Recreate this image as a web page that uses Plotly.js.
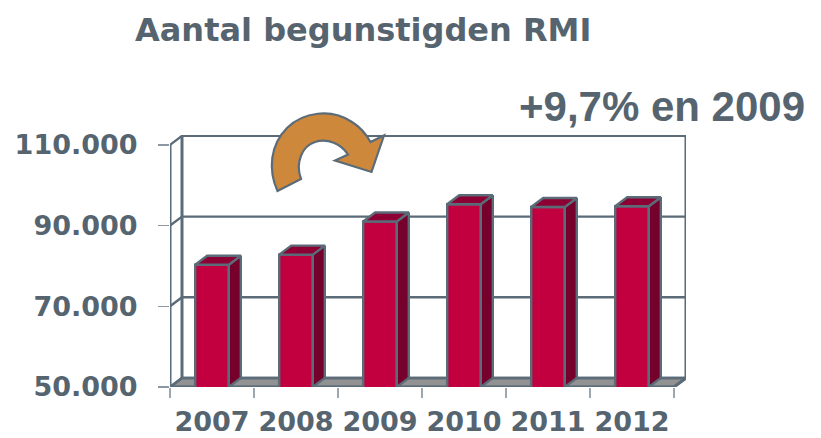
<!DOCTYPE html>
<html>
<head>
<meta charset="utf-8">
<script src="https://cdn.plot.ly/plotly-3.0.1.min.js"></script>
<style>html,body{margin:0;padding:0;background:#fff}</style>
</head>
<body>
<div id="chart" style="width:821px;height:438px"></div>
<script>
const categories = ['2007','2008','2009','2010','2011','2012'];
const values = [80300, 82800, 91000, 95300, 94600, 94800];
const yTicks = [50000, 70000, 90000, 110000];
const yTickLabels = ['50.000','70.000','90.000','110.000'];
const titleText = 'Aantal begunstigden RMI';
const noteText = '+9,7% en 2009';

const W = 821, H = 438;
const L = 170, R = 686, T = 135, B = 387;
const catPx = 84;
const depthPxX = 12, depthPxY = 9;
const yPxPer = 80.7 / 20000;
const dx = depthPxX / catPx;
const dy = depthPxY / yPxPer;
const barW = 0.4;
const xMin = -0.5, xMax = categories.length - 0.5 + dx;
const yMin = yTicks[0], yMax = yMin + (B - T) / yPxPer;

const lineC = '#5b6b78', textC = '#56646f', gridW = 2.4, wallW = 3;
const font = 'DejaVu Sans, Verdana, sans-serif';

const idx = categories.map((_, i) => i);
const xEnd = categories.length - 0.5;
const topTick = yTicks[yTicks.length - 1];

function poly(xs, ys, fill, extra) {
  return Object.assign({type:'scatter', mode:'lines', x:xs, y:ys, fill:'toself', fillcolor:fill,
    line:{color:lineC, width:gridW, shape:'linear'}, hoverinfo:'skip', showlegend:false, cliponaxis:false}, extra || {});
}
function lines(xs, ys, width) {
  return {type:'scatter', mode:'lines', x:xs, y:ys,
    line:{color:lineC, width:width}, hoverinfo:'skip', showlegend:false, cliponaxis:false};
}

// back-of-chart wall and floor
const floor = poly([xMin, xEnd, xEnd + dx, xMin + dx, xMin],
                   [yMin, yMin, yMin + dy, yMin + dy, yMin], '#929292');
const gx = [], gy = [];
yTicks.forEach(v => {
  gx.push(xMin, xMin + dx, xEnd + dx, null);
  gy.push(v, v + dy, v + dy, null);
});
const grid = lines(gx, gy, gridW);
const walls = lines(
  [xMin, xMin, null, xMin + dx, xMin + dx, null, xEnd + dx, xEnd + dx, xEnd, null, xMin, xEnd],
  [yMin, topTick, null, yMin + dy, topTick + dy, null, topTick + dy, yMin + dy, yMin, null, yMin, yMin], wallW);

// bars
const front = {type:'bar', x:idx, y:values, width:barW, xaxis:'x2', yaxis:'y',
  marker:{color:'#c2003f', line:{color:lineC, width:gridW}}, hoverinfo:'skip', showlegend:false};
const tx = [], ty = [], sx = [], sy = [];
values.forEach((v, i) => {
  const a = i - barW / 2, b = i + barW / 2;
  tx.push(a, b, b + dx, a + dx, a, null);
  ty.push(v, v, v + dy, v + dy, v, null);
  sx.push(b, b + dx, b + dx, b, b, null);
  sy.push(yMin, yMin + dy, v + dy, v, yMin, null);
});
const tops = poly(tx, ty, '#8c0033', {xaxis:'x2'});
const sides = poly(sx, sy, '#75002b', {xaxis:'x2'});

const xp = p => (p - L) / (R - L);
const yp = p => (B - p) / (B - T);
const P = (c, pts) => c + pts.map(q => xp(q[0]).toFixed(5) + ',' + yp(q[1]).toFixed(5)).join(' ');
const arrowPath = [
  P('M', [[277.5,191]]),
  P('C', [[268,170],[270,145],[287,128]]),
  P('C', [[303,112],[331,108],[352,122]]),
  P('C', [[360,127],[366,134],[370.5,142]]),
  P('L', [[384,135.5]]),
  P('L', [[371.5,172]]),
  P('L', [[335,160.5]]),
  P('L', [[348,154.5]]),
  P('C', [[341,144],[328,138],[315,142]]),
  P('C', [[302,146],[295,163],[301,179]]),
  'Z'
].join(' ');

const layout = {
  width:W, height:H, autosize:false,
  margin:{l:L, r:W - R, t:T, b:H - B, pad:0},
  paper_bgcolor:'#ffffff', plot_bgcolor:'rgba(0,0,0,0)',
  showlegend:false, barmode:'overlay',
  title:{text:titleText, font:{family:font, size:32, weight:'bold', color:textC},
    xref:'container', yref:'container', x:135/W, xanchor:'left', y:1-30/H, yanchor:'middle'},
  xaxis:{type:'linear', range:[xMin, xMax], domain:[0,1], showgrid:false, zeroline:false, showline:false,
    tickmode:'array', tickvals:[-0.5,0.5,1.5,2.5,3.5,4.5,5.5], ticktext:['','','','','','',''],
    ticks:'outside', ticklen:10, tickwidth:1.2, tickcolor:'#9aa6b0', anchor:'y'},
  xaxis2:{type:'linear', range:[xMin, xMax], domain:[0,1], overlaying:'x', side:'bottom', anchor:'y',
    showgrid:false, zeroline:false, showline:false, ticks:'',
    tickmode:'array', tickvals:idx, ticktext:categories, ticklabelstandoff:16,
    tickfont:{family:font, size:27, weight:'bold', color:textC}},
  yaxis:{type:'linear', range:[yMin, yMax], domain:[0,1], showgrid:false, zeroline:false, showline:false,
    tickmode:'array', tickvals:yTicks, ticktext:yTickLabels, ticks:'outside', ticklen:11, tickwidth:1.5,
    tickcolor:'#8b98a3', ticklabelstandoff:15,
    tickfont:{family:font, size:27, weight:'bold', color:textC}},
  annotations:[{text:noteText, xref:'paper', yref:'paper', x:xp(807), y:yp(106), xanchor:'right', yanchor:'middle',
    showarrow:false, font:{family:'Liberation Sans, Arial, sans-serif', size:42, weight:'bold', color:textC}}],
  shapes:[{type:'path', xref:'paper', yref:'paper', layer:'above', path:arrowPath,
    fillcolor:'#cd883c', line:{color:lineC, width:2.2}}]
};

Plotly.newPlot('chart', [floor, grid, walls, front, sides, tops], layout, {displayModeBar:false, staticPlot:true});
</script>
</body>
</html>
